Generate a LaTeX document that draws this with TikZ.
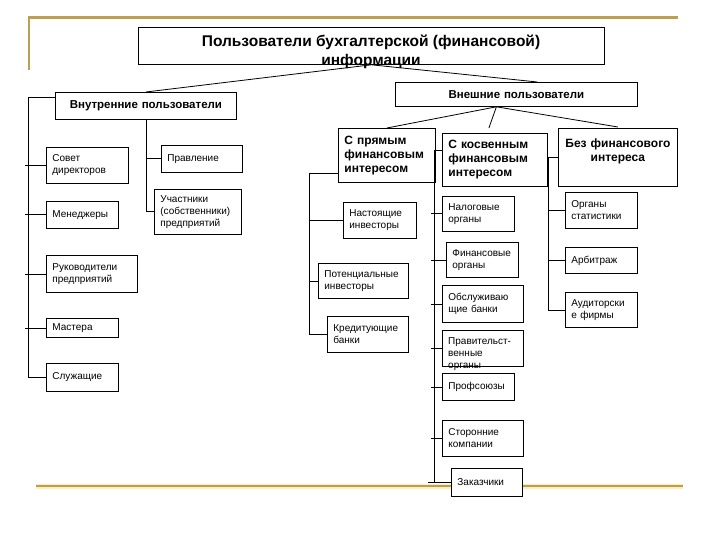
\documentclass[tikz,border=0pt]{standalone}
\usepackage{fontspec}
\setmainfont{Liberation Sans}
\definecolor{rulegold}{RGB}{188,160,82}
\definecolor{rulehalo}{RGB}{250,238,190}
\tikzset{
  link/.style={line width=0.8pt},
  rule/.style={line width=2.4pt, rulegold},
  halo/.style={line width=5pt, rulehalo},
  bx/.style={draw, fill=white, line width=0.8pt, anchor=north west,
    inner xsep=6pt, inner ysep=1pt, align=left,
    font=\fontsize{10}{12}\selectfont},
  bbx/.style={bx, font=\bfseries\fontsize{12}{14}\selectfont},
  hdr/.style={bx, align=center, font=\bfseries\fontsize{11.5}{14}\selectfont},
}
\begin{document}
\begin{tikzpicture}[x=1pt,y=-1pt]
\useasboundingbox (0,0) rectangle (720,540);
% frame rules
\draw[halo] (36,486) -- (683,486);
\draw[rule] (36,486) -- (683,486);
\draw[rule] (29,70) -- (29,17.5) -- (678,17.5);
% title
\node[draw, fill=white, line width=0.8pt, anchor=north west, minimum width=466pt, minimum height=37pt] (title) at (138,27) {};
\node[font=\bfseries\fontsize{15.5}{19}\selectfont, align=center] (titletext) at (371,51.5) {Пользователи бухгалтерской (финансовой)\\информации};
% the two groups
\node[hdr, text width=169pt, minimum height=27pt] (inner) at (55,92) {Внутренние пользователи};
\node[hdr, text width=230pt, minimum height=24pt] (outer) at (395,82) {Внешние пользователи};
\draw[link] (title.south) -- (inner.north);
\draw[link] (title.south) -- ([xshift=21pt]outer.north);
% internal users
\node[bx, text width=70pt, minimum height=36pt] (sovet) at (46,147) {Совет\\директоров};
\node[bx, text width=60pt, minimum height=27pt] (menedzh) at (46,201) {Менеджеры};
\node[bx, text width=79pt, minimum height=37pt] (rukov) at (46,255) {Руководители\\предприятий};
\node[bx, text width=60pt, minimum height=19pt] (master) at (46,318) {Мастера};
\node[bx, text width=60pt, minimum height=28pt] (sluzh) at (46,363) {Служащие};
\node[bx, text width=69pt, minimum height=27pt] (pravl) at (161,145) {Правление};
\node[bx, text width=75pt, minimum height=45pt] (uchast) at (154,189) {Участники\\(собственники)\\предприятий};
\coordinate (spA) at (28,0);
\draw[link] ([yshift=8pt]inner.west) -| (sluzh.west -| spA) -- (sluzh.west);
\foreach \b in {sovet,menedzh,rukov,master}
  \draw[link] ([xshift=-3pt]\b.west -| spA) -- (\b.west);
\draw[link] (inner.south) |- (uchast.west);
\draw[link] (pravl.west -| inner.south) -- (pravl.west);
% external users
\node[bbx, text width=85pt, minimum height=54pt] (prjam) at (338,128) {С прямым\\финансовым\\интересом};
\node[bbx, text width=93pt, minimum height=53pt] (kosv) at (442,133) {С косвенным\\финансовым\\интересом};
\node[bbx, align=center, text width=107pt, minimum height=58pt] (bez) at (558,128) {Без финансового\\интереса\\\mbox{}};
\coordinate (ob) at ([xshift=-20pt]outer.south);
\draw[link] (ob) -- (prjam.north);
\draw[link] (ob) -- ([xshift=-6pt,yshift=5pt]kosv.north);
\draw[link] (ob) -- ([yshift=1pt]bez.north);
% direct interest
\node[bx, text width=61pt, minimum height=36pt] (nastoj) at (343,202) {Настоящие\\инвесторы};
\node[bx, text width=78pt, minimum height=35pt] (potenc) at (318,263) {Потенциальные\\инвесторы};
\node[bx, text width=69pt, minimum height=36pt] (kredit) at (327,316) {Кредитующие\\банки};
\coordinate (spC) at (309,0);
\draw[link] ([yshift=-18pt]prjam.west) -| (kredit.west -| spC) -- (kredit.west);
\foreach \b in {nastoj,potenc}
  \draw[link] (\b.west -| spC) -- (\b.west);
% indirect interest
\node[bx, text width=60pt, minimum height=35pt] (nalog) at (442,196) {Налоговые\\органы};
\node[bx, text width=60pt, minimum height=35pt] (finorg) at (446,242) {Финансовые\\органы};
\node[bx, text width=69pt, minimum height=37pt] (obsl) at (442,285) {Обслуживаю\\щие банки};
\node[bx, text width=69pt, minimum height=36pt] (pravit) at (442,330) {};
\node[anchor=north west, inner sep=0pt, align=left, font=\fontsize{10}{12}\selectfont] (pravittext) at (448,337.5) {Правительст-\\венные\\органы};
\node[bx, text width=60pt, minimum height=27pt] (profs) at (442,373) {Профсоюзы};
\node[bx, text width=69pt, minimum height=36pt] (storon) at (442,420) {Сторонние\\компании};
\node[bx, text width=59pt, minimum height=28pt] (zakaz) at (451,468) {Заказчики};
\coordinate (spD) at (434,0);
\draw[link] ([yshift=9pt]kosv.west) -| (zakaz.west -| spD);
\foreach \b in {nalog,finorg,obsl,pravit,profs,storon}
  \draw[link] ([xshift=-3pt]\b.west -| spD) -- (\b.west);
\draw[link] ([xshift=-6pt]zakaz.west -| spD) -- (zakaz.west);
% no financial interest
\node[bx, text width=60pt, minimum height=36pt] (statist) at (565,192) {Органы\\статистики};
\node[bx, text width=60pt, minimum height=26pt] (arbitr) at (565,247) {Арбитраж};
\node[bx, text width=60pt, minimum height=35pt] (audit) at (565,292) {Аудиторски\\е фирмы};
\coordinate (spE) at (548,0);
\draw[link] (bez.west -| spE) -- (bez.west);
\draw[link] (bez.west -| spE) |- (audit.west);
\foreach \b in {statist,arbitr}
  \draw[link] (\b.west -| spE) -- (\b.west);
\end{tikzpicture}
\end{document}
